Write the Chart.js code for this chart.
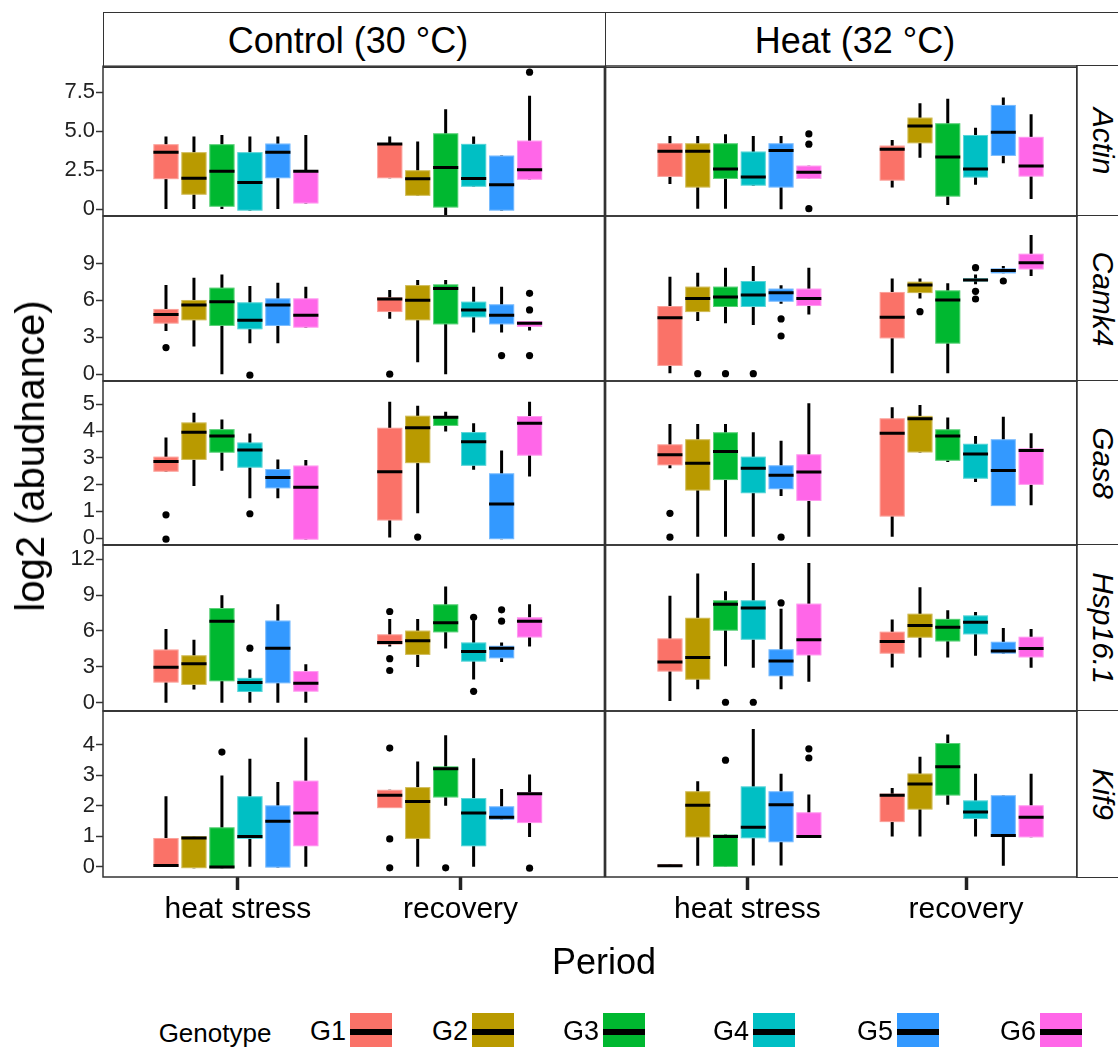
<!DOCTYPE html>
<html>
<head>
<meta charset="utf-8">
<script src="https://cdn.jsdelivr.net/npm/chart.js@4.4.1/dist/chart.umd.min.js"></script>
<style>
  html, body { margin: 0; padding: 0; background: #fff; }
  #fig { position: relative; width: 1118px; height: 1047px; overflow: hidden;
         font-family: "Liberation Sans", Arial, sans-serif; color: #000; }
  #fig canvas { position: absolute; }
  .strip { position: absolute; box-sizing: border-box; border: 1.5px solid #333; background: #fff; }
  .txt { position: absolute; white-space: nowrap; transform: translate(-50%, -50%); line-height: 1; }
  .key { position: absolute; width: 42px; height: 40px; }
  .key div { position: absolute; left: 0; right: 0; top: 16px; height: 6px; background: #000; }
</style>
</head>
<body>
<div id="fig"></div>
<script>
// categories
const genes = ['Actin', 'Camk4', 'Gas8', 'Hsp16.1', 'Kif9'];
const conditions = ['Control (30 °C)', 'Heat (32 °C)'];
const periods = ['heat stress', 'recovery'];
const genotypes = ['G1', 'G2', 'G3', 'G4', 'G5', 'G6'];
const genoColors = ['#FA7268', '#B99A00', '#00B830', '#00BFC4', '#3399FF', '#FF66E8'];

// y tick labels per gene
const actinTicks = [0, 2.5, 5, 7.5];
const actinTickLabels = ['0', '2.5', '5.0', '7.5'];
const camk4Ticks = [0, 3, 6, 9];
const gas8Ticks = [0, 1, 2, 3, 4, 5];
const hspTicks = [0, 3, 6, 9, 12];
const kif9Ticks = [0, 1, 2, 3, 4];

// box stats: [low whisker, q1, median, q3, high whisker], G1..G6 for heat stress, then recovery
// outliers: [period, genotype, value]
const actinControl = [
  [[0, 1.92, 3.65, 4.16, 4.65], [0, 0.92, 1.98, 3.65, 4.65], [0, 0.15, 2.43, 4.16, 4.75],
   [-0.1, -0.1, 1.71, 3.65, 4.65], [0, 1.98, 3.65, 4.2, 4.65], [0.36, 0.36, 2.43, 2.45, 4.75]],
  [[1.98, 1.98, 4.18, 4.2, 4.65], [0.85, 0.85, 1.94, 2.49, 4.33], [-0.4, 0.1, 2.67, 4.86, 6.4],
   [1.43, 1.43, 1.96, 4.18, 4.65], [-0.1, -0.1, 1.56, 3.43, 3.43], [1.88, 1.88, 2.52, 4.39, 7.27]]
];
const actinControlOut = [[1, 5, 8.78]];
const actinHeat = [
  [[1.62, 2.07, 3.71, 4.22, 4.69], [0.04, 1.39, 3.71, 4.22, 4.69], [0.04, 1.94, 2.58, 4.22, 4.8],
   [1.51, 1.51, 2.07, 3.69, 4.69], [0, 1.39, 3.75, 4.22, 4.69], [1.94, 1.94, 2.37, 2.79, 2.79]],
  [[1.39, 1.83, 3.84, 4.07, 4.43], [3.3, 4.22, 5.33, 5.86, 6.78], [0.28, 0.81, 3.35, 5.5, 7.06],
   [1.56, 2.03, 2.58, 4.75, 5.22], [2.94, 3.41, 4.93, 6.67, 7.14], [0.66, 2.09, 2.77, 4.63, 6.08]]
];
const actinHeatOut = [[0, 5, 4.82], [0, 5, 4.16], [0, 5, 0.04]];

const camk4Control = [
  [[3.51, 4.11, 4.84, 5.3, 7.24], [2.24, 4.38, 5.62, 6.03, 7.84], [0, 3.92, 5.89, 7.03, 8.1],
   [2.51, 3.65, 4.38, 5.84, 7.16], [2.51, 3.92, 5.62, 6.16, 7.43], [3.78, 3.78, 4.78, 6.16, 7.11]],
  [[4.51, 5.05, 6.11, 6.24, 6.84], [0.97, 4.38, 6.0, 7.24, 7.65], [0, 4.05, 6.97, 7.3, 7.65],
   [3.38, 4.62, 5.22, 5.89, 7.11], [3.38, 4.05, 4.78, 5.68, 7.11], [3.54, 3.84, 4.14, 4.32, 4.32]]
];
const camk4ControlOut = [[0, 0, 2.16], [0, 3, -0.08], [1, 0, 0], [1, 4, 1.51],
  [1, 5, 6.57], [1, 5, 5.22], [1, 5, 1.51]];
const camk4Heat = [
  [[0.08, 0.68, 4.59, 5.54, 7.92], [4.32, 5.05, 6.14, 7.11, 8.24], [4.14, 5.46, 6.27, 7.11, 8.65],
   [4.0, 5.46, 6.43, 7.57, 8.78], [5.73, 5.89, 6.62, 6.95, 7.22], [4.86, 5.54, 6.16, 6.95, 8.65]],
  [[0.08, 2.92, 4.62, 6.68, 7.78], [6.16, 6.59, 7.24, 7.51, 7.78], [0.08, 2.49, 6.03, 6.81, 7.38],
   [7.3, 7.54, 7.65, 7.78, 8.1], [8.19, 8.19, 8.43, 8.59, 8.78], [7.97, 8.51, 9.05, 9.78, 11.3]]
];
const camk4HeatOut = [[0, 1, 0.05], [0, 2, 0.05], [0, 3, 0.05], [0, 4, 4.49], [0, 4, 3.11],
  [1, 1, 5.08], [1, 3, 8.65], [1, 3, 6.73], [1, 3, 6.11], [1, 4, 7.57]];

const gas8Control = [
  [[2.48, 2.48, 2.86, 3.04, 3.76], [1.95, 2.92, 3.95, 4.32, 4.68], [2.52, 3.19, 3.81, 4.07, 4.43],
   [1.49, 2.63, 3.29, 3.57, 3.91], [1.49, 1.86, 2.26, 2.58, 2.94], [-0.06, -0.06, 1.9, 2.71, 2.92]],
  [[0.02, 0.66, 2.48, 4.12, 5.09], [0.93, 2.8, 4.12, 4.57, 4.94], [3.98, 4.19, 4.51, 4.56, 4.72],
   [2.55, 2.7, 3.6, 3.96, 4.29], [-0.04, -0.04, 1.27, 2.42, 3.27], [2.3, 3.08, 4.29, 4.56, 5.09]]
];
const gas8ControlOut = [[0, 0, 0.87], [0, 0, -0.04], [0, 3, 0.91], [1, 1, 0.04]];
const gas8Heat = [
  [[2.61, 2.72, 3.11, 3.5, 4.26], [0.06, 1.78, 2.8, 3.69, 4.26], [0.06, 2.17, 3.23, 3.95, 4.26],
   [0.06, 1.68, 2.61, 3.04, 3.95], [1.58, 1.83, 2.35, 2.72, 3.63], [0.06, 1.39, 2.47, 3.13, 5.03]],
  [[0.06, 0.81, 3.91, 4.47, 4.88], [3.2, 3.2, 4.45, 4.56, 4.97], [2.84, 2.89, 3.81, 4.06, 4.5],
   [2.1, 2.22, 3.14, 3.52, 3.81], [1.2, 1.2, 2.53, 3.69, 4.53], [1.23, 1.99, 3.27, 3.35, 3.91]]
];
const gas8HeatOut = [[0, 0, 0.93], [0, 0, 0.04], [0, 4, 0.04]];

const hspControl = [
  [[0, 1.69, 2.96, 4.45, 6.17], [1.1, 1.49, 3.27, 3.97, 5.27], [0, 1.8, 6.82, 7.92, 8.99],
   [0, 0.9, 1.69, 2.08, 2.79], [0, 1.63, 4.56, 6.87, 8.23], [0, 0.93, 1.63, 2.65, 3.21]],
  [[4.7, 4.87, 5.04, 5.72, 7.01], [2.99, 4.0, 5.18, 6.03, 7.01], [4.54, 5.89, 6.68, 8.23, 9.72],
   [1.94, 3.44, 4.28, 5.04, 6.9], [3.41, 3.72, 4.56, 4.76, 5.04], [4.7, 5.46, 6.82, 7.15, 8.23]]
];
const hspControlOut = [[0, 3, 4.56], [1, 0, 7.63], [1, 0, 3.69], [1, 0, 2.7], [1, 3, 7.15],
  [1, 3, 0.96], [1, 4, 7.77], [1, 4, 6.82]];
const hspHeat = [
  [[0.17, 2.62, 3.41, 5.38, 8.93], [1.15, 1.94, 3.8, 7.1, 10.8], [3.07, 6.03, 8.23, 8.56, 9.32],
   [2.93, 5.27, 7.92, 8.56, 11.66], [1.15, 2.23, 3.49, 4.48, 7.86], [1.77, 3.97, 5.27, 8.28, 11.66]],
  [[2.96, 4.11, 5.13, 5.94, 6.96], [3.8, 5.44, 6.45, 7.44, 9.64], [3.8, 5.13, 6.31, 7.01, 7.72],
   [3.94, 5.72, 6.73, 7.3, 7.58], [4.11, 4.11, 4.34, 5.1, 6.25], [2.93, 3.8, 4.54, 5.52, 6.17]]
];
const hspHeatOut = [[0, 2, 0.06], [0, 3, 0.06], [0, 4, 8.34]];

const kif9Control = [
  [[-0.01, -0.01, 0.04, 0.94, 2.31], [-0.05, -0.05, 0.94, 1.0, 1.0], [-0.05, -0.05, -0.01, 1.29, 2.99],
   [0, 0.91, 0.99, 2.31, 3.54], [-0.03, -0.03, 1.49, 2.01, 2.78], [0, 0.67, 1.76, 2.82, 4.24]],
  [[1.92, 1.92, 2.34, 2.52, 2.52], [0, 0.91, 2.14, 2.61, 3.45], [2.0, 2.27, 3.21, 3.29, 4.31],
   [0, 0.67, 1.76, 2.25, 3.56], [1.54, 1.54, 1.62, 1.98, 2.55], [0.97, 1.43, 2.39, 2.44, 3.02]]
];
const kif9ControlOut = [[0, 2, 3.76], [1, 0, 3.89], [1, 0, 0.91], [1, 0, -0.04], [1, 2, -0.04], [1, 5, -0.05]];
const kif9Heat = [
  [[0, 0, 0.03, 0.07, 0.07], [0.03, 0.96, 2.01, 2.47, 2.8], [-0.01, -0.01, 0.99, 1.05, 1.05],
   [0.04, 0.93, 1.29, 2.63, 4.51], [0.04, 0.8, 2.03, 2.47, 3.04], [0.96, 0.96, 0.99, 1.78, 2.36]],
  [[0.99, 1.46, 2.34, 2.39, 2.58], [0.99, 1.87, 2.71, 3.05, 3.6], [2.03, 2.33, 3.27, 4.05, 4.33],
   [0.99, 1.56, 1.79, 2.17, 3.04], [0.03, 0.97, 1.02, 2.34, 2.34], [0.96, 0.96, 1.62, 2.01, 3.04]]
];
const kif9HeatOut = [[0, 2, 3.49], [0, 5, 3.86], [0, 5, 3.56]];

// layout
const colX = [[103, 605], [605, 1077]];
const rowY = [[66, 216], [216, 381], [381, 545], [545, 711], [711, 877]];
const yRange = [[-0.43, 9.16], [-0.54, 12.84], [-0.25, 5.86], [-0.67, 13.17], [-0.34, 5.1]];
const xRange = [[-0.594, 1.647], [-0.602, 1.519]];
const periodTickPos = [[0.009, 1.004], [0.036, 1.02]];
const SLOT = 0.125, BOXW = 0.1125, PAD = 14, XAXIS_H = 70;
const FONT = '"Liberation Sans", Arial, sans-serif';

const rows = [
  { stats: [actinControl, actinHeat], out: [actinControlOut, actinHeatOut], ticks: actinTicks, labels: actinTickLabels },
  { stats: [camk4Control, camk4Heat], out: [camk4ControlOut, camk4HeatOut], ticks: camk4Ticks },
  { stats: [gas8Control, gas8Heat], out: [gas8ControlOut, gas8HeatOut], ticks: gas8Ticks },
  { stats: [hspControl, hspHeat], out: [hspControlOut, hspHeatOut], ticks: hspTicks },
  { stats: [kif9Control, kif9Heat], out: [kif9ControlOut, kif9HeatOut], ticks: kif9Ticks }
];

const fig = document.getElementById('fig');

function addDiv(cls, css, html) {
  const d = document.createElement('div');
  d.className = cls;
  d.style.cssText = css;
  if (html !== undefined) d.innerHTML = html;
  fig.appendChild(d);
  return d;
}

// strips
addDiv('strip', 'left:103px;top:12px;width:504px;height:56px;');
addDiv('strip', 'left:605px;top:12px;width:540px;height:56px;');
addDiv('txt', 'left:348px;top:41px;font-size:36px;', conditions[0]);
addDiv('txt', 'left:855px;top:41px;font-size:36px;', conditions[1]);
rowY.forEach(([t, b], r) => {
  addDiv('strip', `left:1076px;top:${t - 1}px;width:70px;height:${b - t + 2}px;`);
  addDiv('txt', `left:1103px;top:${(t + b) / 2}px;font-size:30px;font-style:italic;writing-mode:vertical-rl;`, genes[r]);
});

// boxes drawn through the chart scales
function boxPlugin(stats) {
  return {
    id: 'boxes',
    beforeDatasetsDraw(chart) {
      const { ctx, chartArea: a, scales: { x, y } } = chart;
      ctx.save();
      ctx.beginPath();
      ctx.rect(a.left, a.top, a.right - a.left, a.bottom - a.top);
      ctx.clip();
      const half = (x.getPixelForValue(BOXW) - x.getPixelForValue(0)) / 2;
      stats.forEach((group, p) => group.forEach((s, g) => {
        const cx = x.getPixelForValue(p + (g - 2.5) * SLOT);
        const [lo, q1, md, q3, hi] = s.map(v => y.getPixelForValue(v));
        ctx.strokeStyle = '#000';
        ctx.lineWidth = 3;
        ctx.beginPath(); ctx.moveTo(cx, lo); ctx.lineTo(cx, hi); ctx.stroke();
        ctx.fillStyle = genoColors[g];
        ctx.fillRect(cx - half, q3, 2 * half, q1 - q3);
        ctx.strokeStyle = 'rgba(255,255,255,0.35)';
        ctx.lineWidth = 1;
        if (q1 - q3 > 2) ctx.strokeRect(cx - half + 0.5, q3 + 0.5, 2 * half - 1, q1 - q3 - 1);
        ctx.strokeStyle = '#000';
        ctx.lineWidth = 3;
        ctx.beginPath(); ctx.moveTo(cx - half, md); ctx.lineTo(cx + half, md); ctx.stroke();
      }));
      ctx.restore();
    },
    afterDraw(chart) {
      const { ctx, chartArea: a } = chart;
      ctx.save();
      ctx.strokeStyle = '#333';
      ctx.lineWidth = 1.5;
      ctx.strokeRect(a.left, a.top, a.right - a.left, a.bottom - a.top);
      ctx.restore();
    }
  };
}

rows.forEach((row, r) => {
  const [top, bottom] = rowY[r];
  const isBottom = r === rows.length - 1;
  [0, 1].forEach(c => {
    const isLeft = c === 0;
    const canvas = document.createElement('canvas');
    const left = isLeft ? 0 : colX[1][0] - 3;
    const width = isLeft ? colX[0][1] + 3 : colX[1][1] - colX[1][0] + 8;
    const height = (bottom - top) + PAD + (isBottom ? XAXIS_H : PAD);
    canvas.width = width;
    canvas.height = height;
    canvas.style.left = left + 'px';
    canvas.style.top = (top - PAD) + 'px';
    canvas.style.width = width + 'px';
    canvas.style.height = height + 'px';
    fig.appendChild(canvas);

    const tickLabels = row.labels || row.ticks.map(String);
    new Chart(canvas, {
      type: 'scatter',
      data: {
        datasets: [{
          data: row.out[c].map(([p, g, v]) => ({ x: p + (g - 2.5) * SLOT, y: v })),
          pointRadius: 3.6,
          pointHoverRadius: 3.6,
          backgroundColor: '#000',
          borderWidth: 0
        }]
      },
      options: {
        responsive: false,
        animation: false,
        events: [],
        layout: { padding: { top: PAD, bottom: isBottom ? 0 : PAD, left: isLeft ? 0 : 3, right: isLeft ? 3 : 5 } },
        plugins: { legend: { display: false }, tooltip: { enabled: false } },
        scales: {
          x: {
            type: 'linear',
            min: xRange[c][0],
            max: xRange[c][1],
            display: isBottom,
            afterBuildTicks: s => { s.ticks = periodTickPos[c].map(v => ({ value: v })); },
            afterFit: s => { if (isBottom) s.height = XAXIS_H; },
            ticks: {
              callback: (v, i) => periods[i],
              font: { family: FONT, size: 30 },
              color: '#000',
              maxRotation: 0, minRotation: 0, autoSkip: false,
              padding: 2
            },
            grid: { drawOnChartArea: false, drawTicks: true, tickLength: 13, tickWidth: 3.5, tickColor: '#222' },
            border: { display: false }
          },
          y: {
            type: 'linear',
            min: yRange[r][0],
            max: yRange[r][1],
            display: isLeft,
            afterBuildTicks: s => { s.ticks = row.ticks.map(v => ({ value: v })); },
            afterFit: s => { if (isLeft) s.width = colX[0][0]; },
            ticks: {
              callback: (v, i) => tickLabels[i],
              font: { family: FONT, size: 22 },
              color: '#222',
              padding: 1
            },
            grid: { drawOnChartArea: false, drawTicks: true, tickLength: 7, tickWidth: 1.5, tickColor: '#333' },
            border: { display: false }
          }
        }
      },
      plugins: [boxPlugin(row.stats[c])]
    });
  });
});

// axis titles
addDiv('txt', 'left:30px;top:456px;font-size:40px;transform:translate(-50%,-50%) rotate(-90deg);', 'log2 (abudnance)');
addDiv('txt', 'left:604px;top:962px;font-size:36px;', 'Period');

// legend
const keyLefts = [350, 472, 603, 753, 897, 1040];
addDiv('txt', 'left:215px;top:1033px;font-size:26px;', 'Genotype');
genotypes.forEach((g, i) => {
  addDiv('txt', `left:${keyLefts[i] - 4}px;top:1031px;font-size:27px;transform:translate(-100%,-50%);`, g);
  addDiv('key', `left:${keyLefts[i]}px;top:1013px;background:${genoColors[i]};`, '<div></div>');
});
</script>
</body>
</html>
